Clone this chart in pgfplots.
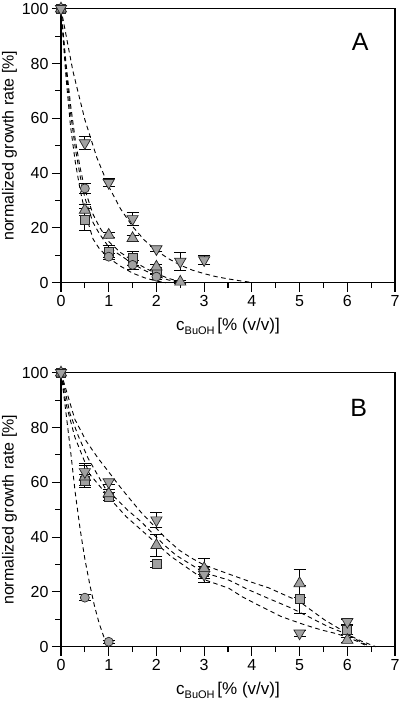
\documentclass[border=0pt]{standalone}
\usepackage{fontspec}
\setmainfont{Liberation Sans}
\usepackage{pgfplots}
\pgfplotsset{compat=1.18}
\usepackage{pgfplotstable}

\definecolor{mfill}{gray}{0.63}

% Panel A data: x y err
\pgfplotstableread{
x y e
0 100 0
0.5 51 2.4
1 36.5 1.5
1.5 23.3 2.4
2 12.3 1
2.5 7.7 3.3
3 8.3 1.5
}\Adown
\pgfplotstableread{
x y e
0 100 0
0.5 26.5 2
1 17.4 1
1.5 16.2 1
2 5.8 1
2.5 0.3 0.5
}\Aup
\pgfplotstableread{
x y e
0 100 0
0.5 23 4
1 11.3 2.2
1.5 8.9 2.6
2 4 1
}\Asq
\pgfplotstableread{
x y e
0 100 0
0.5 34.4 2
1 9.5 1
1.5 6.5 1.5
2 2.2 1
}\Acirc
% Panel B data
\pgfplotstableread{
x y e
0 100 0
0.5 63.8 3
1 60.1 1
2 46.2 2.7
3 26.3 3
5 4.9 1
6 9.1 1
}\Bdown
\pgfplotstableread{
x y e
0 100 0
0.5 62 4
1 55.9 1.5
2 37 4
3 28.6 3.7
5 23.1 5
6 2.4 1
}\Bup
\pgfplotstableread{
x y e
0 100 0
0.5 60.7 2
1 54.7 1.5
2 30.1 1
3 27.3 1
5 17.3 5
6 6.1 1.5
}\Bsq
\pgfplotstableread{
x y e
0 100 0
0.5 17.9 1
1 1.8 0.5
}\Bcirc

\newcommand{\xlab}{c\raisebox{-3.5pt}{\fontsize{11}{12}\selectfont BuOH}\,[\% (v/v)]}

\pgfplotsset{
  panel/.style={
    scale only axis, width=334pt, height=274pt,
    xmin=0, xmax=7, ymin=0, ymax=100,
    xtick={0,...,7}, minor xtick={0.5,1.5,...,6.5},
    ytick={0,20,...,100}, minor ytick={10,30,50,70,90},
    tick align=outside, xtick pos=left, ytick pos=left,
    major tick length=9pt, minor tick length=5.5pt,
    tick style={black, line width=1.1pt},
    axis line style={line width=1.1pt},
    ticklabel style={font=\fontsize{16}{18}\selectfont},
    /pgf/number format/assume math mode=true,
    xlabel={\xlab},
    ylabel={normalized growth rate [\%]},
    label style={font=\fontsize{16}{18}\selectfont},
    xlabel style={at={(axis description cs:0.5,-0.16)}, anchor=center, font=\fontsize{17}{18}\selectfont},
    ylabel style={at={(axis description cs:-0.154,0.5)}, anchor=center},
    clip=false,
  },
  fitline/.style={black, line width=0.9pt, dash pattern=on 4.5pt off 3.5pt, no markers},
  pts/.style={only marks,
    error bars/y dir=both, error bars/y explicit,
    error bars/error bar style={black, line width=0.9pt},
    error bars/error mark options={rotate=90, mark size=6pt, black, line width=0.9pt}},
  mk/.style={mark options={fill=mfill, draw=black!85, line width=0.7pt}},
  mkdown/.style={mark options={fill=mfill, draw=black!85, line width=0.7pt, rotate=180}},
}

\begin{document}
\begin{tikzpicture}[x=1pt,y=1pt]
\path[use as bounding box] (0,0) rectangle (400,704);

% ---------------- Panel A ----------------
\begin{axis}[panel, at={(61pt,421.3pt)}, anchor=south west]
\addplot[fitline] coordinates {(0,100)(0.25,77.2)(0.5,59.5)(0.75,45.7)(1,35.1)(1.25,26.9)(1.5,20.5)(1.75,15.5)(2,11.7)(2.25,8.8)(2.5,6.4)(2.75,4.6)(3,3.3)(3.25,2.2)(3.5,1.4)(3.75,0.7)(4,0.1)};
\addplot[fitline] coordinates {(0,100)(0.1,76)(0.2,57)(0.3,44)(0.4,34)(0.5,26)(0.67,16)(0.8,12.5)(1,9)(1.25,6)(1.5,3.5)(1.75,1.8)(2,0.6)(2.2,0)};
\addplot[fitline] coordinates {(0,100)(0.1,79)(0.2,62)(0.3,49)(0.4,39)(0.5,31)(0.67,22)(0.8,18)(1,13)(1.2,10.5)(1.5,7)(1.75,4.5)(2,2.5)(2.25,1)(2.5,0)};
\addplot[fitline] coordinates {(0,100)(0.1,81)(0.2,65)(0.3,52)(0.4,42)(0.5,34)(0.67,25)(0.8,20.5)(1,15)(1.25,11)(1.5,8)(1.75,5.5)(2,3.3)(2.25,1.6)(2.5,0.3)(2.6,0)};
\addplot[pts, mk, mark=square*, mark size=4.5pt] table[x=x,y=y,y error=e] {\Asq};
\addplot[pts, mk, mark=*, mark size=4.5pt] table[x=x,y=y,y error=e] {\Acirc};
\addplot[pts, mk, mark=triangle*, mark size=6.5pt] table[x=x,y=y,y error=e] {\Aup};
\addplot[pts, mkdown, mark=triangle*, mark size=6.5pt] table[x=x,y=y,y error=e] {\Adown};
\node[font=\fontsize{25}{25}\selectfont] at (axis cs:6.27,88) {A};
\end{axis}

% ---------------- Panel B ----------------
\begin{axis}[panel, at={(61pt,57.3pt)}, anchor=south west]
\addplot[fitline] coordinates {(0,100)(0.1,86)(0.2,71.5)(0.3,56)(0.4,43)(0.5,32)(0.6,23)(0.7,15)(0.8,8.5)(0.9,3.5)(1.0,0.5)};
\addplot[fitline] coordinates {(0,100)(0.29,83)(0.53,75)(0.78,68.7)(1,63.8)(1.23,58.5)(1.44,54)(1.68,49)(2.2,39.5)(2.48,35.2)(2.72,32.5)(3,29.8)(3.52,26.5)(4,23.5)(4.35,21.5)(4.67,19)(5,16.5)(5.19,14)(5.53,9.7)(5.88,6.1)(6.09,3.6)(6.3,1.5)(6.5,0)};
\addplot[fitline] coordinates {(0,100)(0.19,85)(0.36,77)(0.57,68.7)(0.92,58)(1.16,54)(1.4,49.8)(1.68,45.6)(2.17,37)(2.41,33.4)(3,27)(3.52,24.3)(3.94,20.7)(4.35,17.6)(4.84,14)(5.26,10.3)(5.6,7.3)(5.95,4.9)(6.3,2)(6.6,0)};
\addplot[fitline] coordinates {(0,100)(0.1,89)(0.29,76.5)(0.6,63)(1.09,52.8)(1.37,47.4)(1.65,43.1)(2.3,33)(3,24.5)(3.52,21.3)(3.8,18.2)(4.2,14.6)(4.63,10.9)(5.12,7.9)(5.46,6.1)(5.74,4.9)(6,3.5)(6.23,1.8)(6.44,0)};
\addplot[pts, mk, mark=square*, mark size=4.5pt] table[x=x,y=y,y error=e] {\Bsq};
\addplot[pts, mk, mark=*, mark size=4.5pt] table[x=x,y=y,y error=e] {\Bcirc};
\addplot[pts, mk, mark=triangle*, mark size=6.5pt] table[x=x,y=y,y error=e] {\Bup};
\addplot[pts, mkdown, mark=triangle*, mark size=6.5pt] table[x=x,y=y,y error=e] {\Bdown};
\node[font=\fontsize{25}{25}\selectfont] at (axis cs:6.24,87.2) {B};
\end{axis}
\end{tikzpicture}
\end{document}
